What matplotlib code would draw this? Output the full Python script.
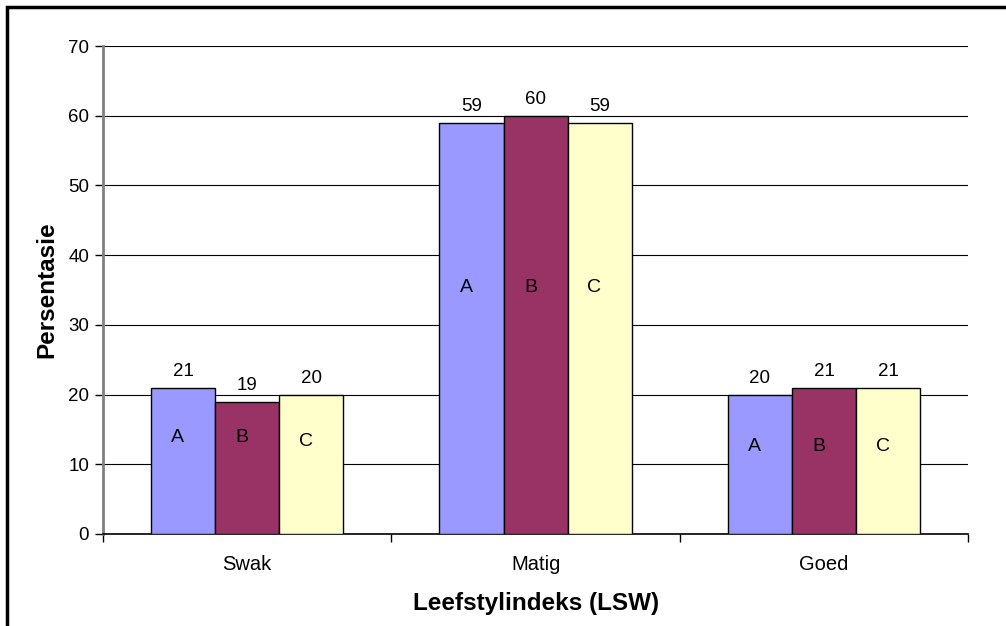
import matplotlib.pyplot as plt
from matplotlib.patches import Rectangle
import numpy as np

categories = ["Swak", "Matig", "Goed"]
series = ["A", "B", "C"]
values_a = [21, 59, 20]
values_b = [19, 60, 21]
values_c = [20, 59, 21]
# height at which the series letter sits inside each bar
letter_y_a = [13.9, 35.3, 12.5]
letter_y_b = [13.9, 35.3, 12.5]
letter_y_c = [13.3, 35.3, 12.5]

colors = ["#9999FF", "#993366", "#FFFFCC"]

plt.rcParams["font.family"] = ["Liberation Sans", "DejaVu Sans"]

fig = plt.figure(figsize=(10.06, 6.26), dpi=100)
ax = fig.add_axes([0.1024, 0.147, 0.86, 0.7795])

x = np.arange(len(categories))
width = 2 / 9
all_vals = [values_a, values_b, values_c]
all_letter_y = [letter_y_a, letter_y_b, letter_y_c]

for i, (vals, ly, name) in enumerate(zip(all_vals, all_letter_y, series)):
    pos = x + (i - 1) * width
    ax.bar(pos, vals, width=width, color=colors[i], edgecolor="black",
           linewidth=1.0, zorder=3)
    for px, v, y in zip(pos, vals, ly):
        ax.text(px, v + 1.1, str(v), ha="center", va="bottom", fontsize=13.5)
        ax.text(px - 0.018, y, name, ha="center", va="center", fontsize=14)

ax.set_xlim(-0.5, 2.5)
ax.set_ylim(0, 70)
ax.set_yticks(range(0, 71, 10))
ax.tick_params(axis="y", labelsize=13.5, length=6, width=1, direction="out", pad=4)
ax.yaxis.grid(True, color="black", linewidth=0.8)
ax.set_axisbelow(True)

ax.set_xticks(x)
ax.set_xticklabels(categories, fontsize=14.5)
ax.tick_params(axis="x", length=0, pad=15)
ax.set_xticks([-0.5, 0.5, 1.5, 2.5], minor=True)
ax.tick_params(axis="x", which="minor", length=6, width=1, direction="out")

for side in ("top", "right"):
    ax.spines[side].set_visible(False)
ax.spines["left"].set_color("#808080")
ax.spines["left"].set_linewidth(2)
ax.spines["bottom"].set_color("black")
ax.spines["bottom"].set_linewidth(1.2)

ax.set_ylabel("Persentasie", fontsize=17.5, fontweight="bold", labelpad=7)
ax.set_xlabel("Leefstylindeks (LSW)", fontsize=17.5, fontweight="bold", labelpad=13)

# outer frame around the chart area
fig.patches.append(Rectangle((7 / 1006, -0.2), 1.2, 1.2 - 7 / 626,
                             transform=fig.transFigure, fill=False,
                             edgecolor="black", linewidth=2.5))

fig.savefig("out.png", dpi=100)
